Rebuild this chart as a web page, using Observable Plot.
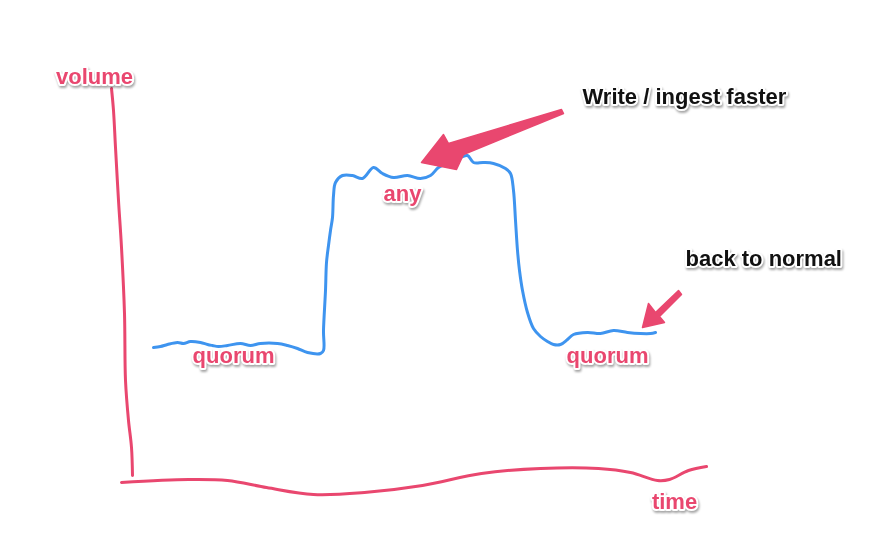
<!DOCTYPE html>
<html>
<head>
<meta charset="utf-8">
<script src="https://cdn.jsdelivr.net/npm/d3@7"></script>
<script src="https://cdn.jsdelivr.net/npm/@observablehq/plot@0.6"></script>
<style>
  html, body { margin: 0; padding: 0; background: #fff; }
  #chart svg { display: block; }
  #chart g[aria-label="text"] text { filter: drop-shadow(1px 2px 1.2px rgba(0,0,0,0.35)); }
</style>
</head>
<body>
<div id="chart"></div>
<script>
// Volume over time (sketch units)
const curveTime = [153,160,167,177,183,190,200,207,212,218,227,240,250,260,277,287,297,307,320,323,323,325,326,328,330,332,333,335,342,352,362,373,382,393,407,420,430,438,447,460,467,473,483,493,505,510,513,515,517,519,522,527,533,540,547,553,560,567,573,587,600,613,627,640,650,655];
const curveVolume = [213,214,216,218,217,219,218,216,215,214,215,217,215,217,217,215,212,208,207,210,230,270,298,315,330,343,365,378,385,385,382,393,387,383,385,382,385,393,397,403,405,398,398,397,392,387,370,340,310,290,270,248,232,224,219,216,216,221,226,228,227,230,228,227,227,228];

// Hand-drawn axes
const yAxisTime = [111,113,115,118,121,124,125,128,131,132];
const yAxisVolume = [472,450,413,360,313,247,180,140,113,85];
const xAxisTime = [121,188,227,266,313,364,422,481,540,598,630,657,669,688,706];
const xAxisVolume = [78,81,80,73,66,68,75,87,92,92,88,80,81,90,94];

// Arrow outlines
const bigArrowTime = [421,443,448,561,563,463,456,421];
const bigArrowVolume = [398,426,417,451,447,406,391,398];
const smallArrowTime = [642,648,655,678,681,659,664,642];
const smallArrowVolume = [233,257,248,270,266,244,238,233];

// Labels
const pinkLabels = ["volume", "any", "quorum", "quorum", "time"];
const pinkLabelTime = [94, 402, 233, 607, 674];
const pinkLabelVolume = [484, 367, 205, 205, 59];
const blackLabels = ["Write / ingest faster", "back to normal"];
const blackLabelTime = [582, 685];
const blackLabelVolume = [464, 302];

const zip = (a, b) => a.map((t, i) => ({t, v: b[i]}));
const curve = zip(curveTime, curveVolume);
const yAxis = zip(yAxisTime, yAxisVolume);
const xAxis = zip(xAxisTime, xAxisVolume);
const bigArrow = zip(bigArrowTime, bigArrowVolume);
const smallArrow = zip(smallArrowTime, smallArrowVolume);
const pink = pinkLabels.map((s, i) => ({s, t: pinkLabelTime[i], v: pinkLabelVolume[i]}));
const black = blackLabels.map((s, i) => ({s, t: blackLabelTime[i], v: blackLabelVolume[i]}));

const PINK = "#e9476f";
const BLUE = "#3e94ef";

const chart = Plot.plot({
  width: 880,
  height: 560,
  margin: 0,
  x: {domain: [0, 880], axis: null},
  y: {domain: [0, 560], axis: null},
  style: {fontFamily: "'Liberation Sans', Arial, Helvetica, sans-serif", background: "#fff"},
  marks: [
    Plot.line(yAxis, {x: "t", y: "v", stroke: PINK, strokeWidth: 3, curve: "catmull-rom", strokeLinecap: "round"}),
    Plot.line(xAxis, {x: "t", y: "v", stroke: PINK, strokeWidth: 3, curve: "catmull-rom", strokeLinecap: "round"}),
    Plot.line(curve, {x: "t", y: "v", stroke: BLUE, strokeWidth: 3, curve: "catmull-rom", strokeLinecap: "round", strokeLinejoin: "round"}),
    Plot.line(bigArrow, {x: "t", y: "v", fill: PINK, stroke: PINK, strokeWidth: 1.5, strokeLinejoin: "round"}),
    Plot.line(smallArrow, {x: "t", y: "v", fill: PINK, stroke: PINK, strokeWidth: 1.5, strokeLinejoin: "round"}),
    Plot.text(pink, {x: "t", y: "v", text: "s", fill: PINK, stroke: "white", strokeWidth: 4, paintOrder: "stroke", fontSize: 22, fontWeight: "bold", textAnchor: "middle"}),
    Plot.text(black, {x: "t", y: "v", text: "s", fill: "#111", stroke: "white", strokeWidth: 4, paintOrder: "stroke", fontSize: 22, fontWeight: "bold", textAnchor: "start"})
  ]
});
document.getElementById("chart").appendChild(chart);
</script>
</body>
</html>
